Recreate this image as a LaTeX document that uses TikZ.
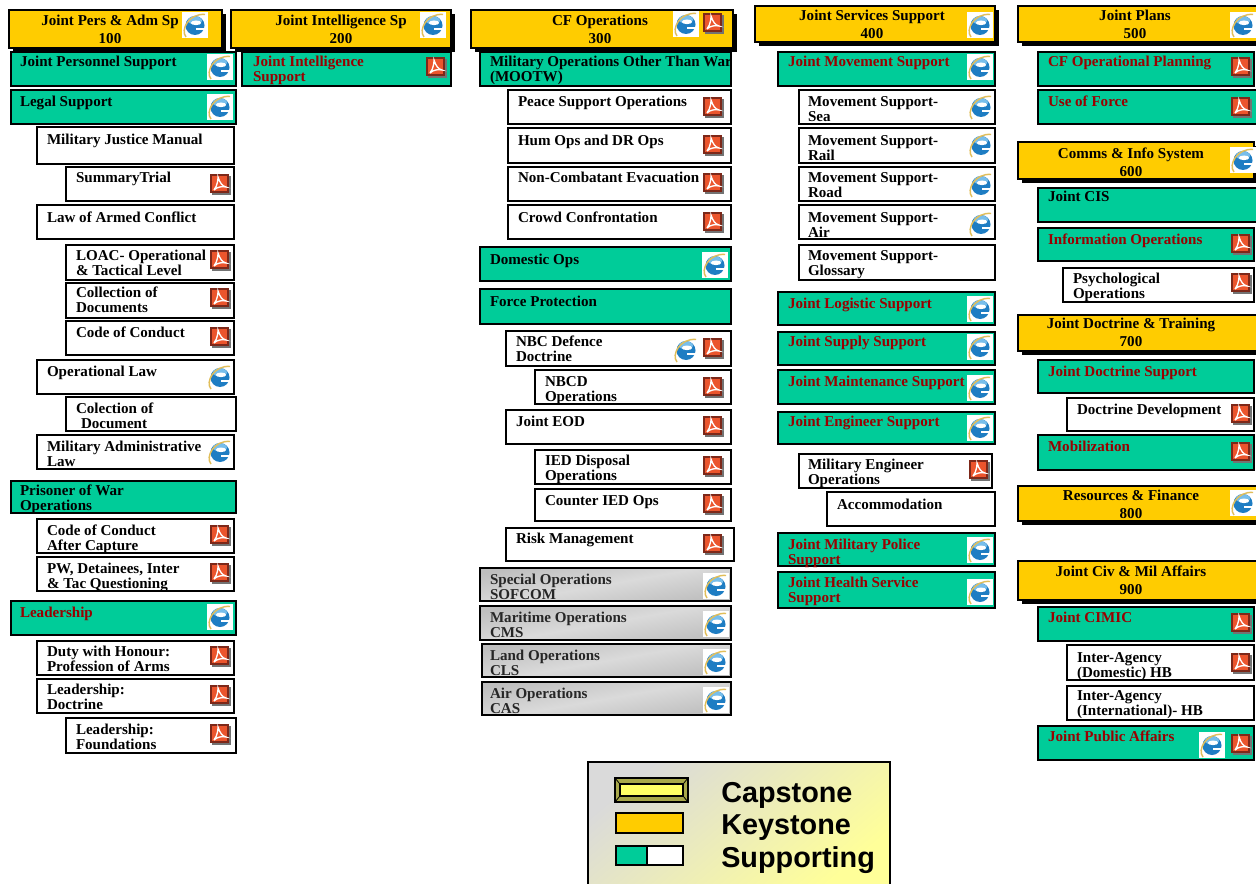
\documentclass[tikz,border=0pt]{standalone}
\usepackage{fontspec}
\setmainfont{Liberation Serif}
\newfontfamily\legfont{Liberation Sans}
\usetikzlibrary{shadows}
\definecolor{keyc}{HTML}{FFCC00}
\definecolor{greenc}{HTML}{00CC99}
\definecolor{redt}{HTML}{990000}
\definecolor{legA}{HTML}{DADADA}
\definecolor{legB}{HTML}{FFFF99}
\definecolor{capY}{HTML}{FFFF66}
\definecolor{capB}{HTML}{A8A84A}
\definecolor{grayE}{HTML}{BEBEBE}
\definecolor{grayM}{HTML}{DADADA}
\newdimen\ux \ux=0.75pt
\newdimen\hx \hx=0.375pt
\tikzset{
 x=0.75pt,y=-0.75pt,
 boxbase/.style={draw=black,line width=1.5pt,inner sep=0pt,outer sep=0pt,anchor=north west,align=left,
   font=\bfseries\fontsize{11.3}{11.9}\selectfont},
 keybox/.style={boxbase,fill=keyc,text=black,drop shadow={shadow xshift=3pt,shadow yshift=-3pt,fill=black,opacity=1}},
 grnbk/.style={boxbase,fill=greenc,text=black},
 grnrd/.style={boxbase,fill=greenc,text=redt},
 whitebox/.style={boxbase,fill=white,text=black},
 graybox/.style={boxbase,left color=grayE,right color=grayE,middle color=grayM,shading angle=10,text=black!85},
 legtext/.style={anchor=west,inner sep=0pt,text=black,font=\legfont\bfseries\fontsize{21.6}{24}\selectfont},
 legswatch/.style={draw=black,line width=1.3pt,inner sep=0pt,outer sep=0pt,anchor=north west},
 ieicon/.pic={
   \fill[white] (-13,-13) rectangle (13,13);
   \fill[color={rgb,255:red,30;green,125;blue,195}] (0,0.5) circle (9.5);
   \fill[color={rgb,255:red,120;green,190;blue,235}] (0,-4.5) ellipse (7 and 4);
   \fill[white] (1,-2.2) ellipse (5.2 and 2.3);
   \fill[white] (0.5,2.6) rectangle (10.5,5);
   \draw[color={rgb,255:red,225;green,190;blue,90},line width=1.1pt]
     (-9,12) .. controls (-15,5) and (-6,-12) .. (10,-10.5);
 },
 pdficon/.pic={
   \fill[black!55] (-8,-8) rectangle (11,11);
   \fill[color={rgb,255:red,125;green,40;blue,25}] (-10,-10) rectangle (9,9);
   \fill[color={rgb,255:red,235;green,85;blue,45}] (-8,-8) rectangle (7,7);
   \draw[white,line width=1pt] (-6,6) .. controls (-2,1) and (-2,-6) .. (-2,-7)
      .. controls (-0,-1) and (2,2) .. (6,3) .. controls (2,2) and (-3,3) .. (-6,6);
 },
}
% box: style, name, x1,y1,x2,y2, text left x, first-line centre y, text
\newcommand\bx[9]{%
 \node[#1,minimum width=\dimexpr\numexpr#5-#3\relax\ux\relax,minimum height=\dimexpr\numexpr#6-#4\relax\ux\relax] (#2) at (#3,#4)
 {\parbox[c][\dimexpr\numexpr#6-#4\relax\ux\relax][t]{\dimexpr\numexpr#5-#3\relax\ux\relax}{%
  \leftskip=\dimexpr\numexpr#7-#3\relax\ux\relax \rightskip=-30pt plus 1fil \parindent=0pt \hbadness=10000 \hfuzz=100pt
  \vspace*{\dimexpr\numexpr2*(#8-#4)-10\relax\hx\relax}\strut #9}};}
% keystone: name, x1,y1,x2,y2, text centre x, first-line centre y, text
\newcommand\kx[8]{%
 \node[keybox,minimum width=\dimexpr\numexpr#4-#2\relax\ux\relax,minimum height=\dimexpr\numexpr#5-#3\relax\ux\relax] (#1) at (#2,#3)
 {\parbox[c][\dimexpr\numexpr#5-#3\relax\ux\relax][t]{\dimexpr\numexpr#4-#2\relax\ux\relax}{%
  \fontsize{11.3}{13.3}\selectfont\centering \rightskip=\dimexpr\numexpr#2+#4-2*#6\relax\ux\relax plus 1fil \hfuzz=100pt
  \vspace*{\dimexpr\numexpr2*(#7-#3)-13\relax\hx\relax}\strut #8}};}
\newcommand\icE[2]{\pic at (#1,#2) {ieicon};}
\newcommand\icP[2]{\pic at (#1,#2) {pdficon};}
\begin{document}
\begin{tikzpicture}
\useasboundingbox (0,0) rectangle (1256,884);
% column 1
\kx{k100}{9}{10}{222}{48}{110}{20}{Joint Pers \& Adm Sp\\100}\icE{195}{25}
\bx{grnbk}{jps}{11}{52}{236}{86}{20}{60}{Joint Personnel Support}\icE{220}{67}
\bx{grnbk}{legal}{11}{90}{236}{124}{20}{100}{Legal Support}\icE{220}{107}
\bx{whitebox}{mjm}{37}{127}{234}{164}{47}{138}{Military Justice Manual}
\bx{whitebox}{st}{66}{167}{234}{201}{76}{176}{SummaryTrial}\icP{220}{184}
\bx{whitebox}{loac}{37}{205}{234}{239}{47}{216}{Law of Armed Conflict}
\bx{whitebox}{loacop}{66}{245}{234}{280}{76}{254}{LOAC- Operational\\\& Tactical  Level}\icP{220}{260}
\bx{whitebox}{coldoc}{66}{283}{234}{318}{76}{291}{Collection of\\Documents}\icP{220}{298}
\bx{whitebox}{coc}{66}{321}{234}{355}{76}{331}{Code of Conduct}\icP{220}{337}
\bx{whitebox}{oplaw}{37}{360}{234}{394}{47}{370}{Operational Law}\icE{220}{377}
\bx{whitebox}{coldoc2}{66}{397}{236}{431}{76}{407}{Colection of\\\hspace*{3.75pt}Document}
\bx{whitebox}{mal}{37}{435}{234}{469}{47}{445}{Military Administrative\\Law}\icE{220}{452}
\bx{grnbk}{pow}{11}{481}{236}{513}{20}{489}{Prisoner of War\\Operations}
\bx{whitebox}{cocac}{37}{519}{234}{553}{47}{529}{Code of Conduct\\After Capture}\icP{220}{535}
\bx{whitebox}{pwdi}{37}{557}{234}{591}{47}{567}{PW, Detainees, Inter\\\& Tac Questioning}\icP{220}{573}
\bx{grnrd}{lead}{11}{601}{236}{635}{20}{611}{Leadership}\icE{220}{617}
\bx{whitebox}{duty}{37}{641}{234}{675}{47}{650}{Duty with Honour:\\Profession of Arms}\icP{220}{656}
\bx{whitebox}{leaddoc}{37}{679}{234}{713}{47}{688}{Leadership:\\Doctrine}\icP{220}{695}
\bx{whitebox}{leadfou}{66}{718}{236}{753}{76}{728}{Leadership:\\Foundations}\icP{220}{734}
% column 2
\kx{k200}{231}{10}{451}{48}{341}{20}{Joint Intelligence Sp\\200}\icE{433}{25}
\bx{grnrd}{jis}{242}{52}{451}{86}{253}{60}{Joint Intelligence\\Support}\icP{436}{67}
% column 3
\kx{k300}{471}{10}{733}{48}{600}{20}{CF Operations\\300}\icE{686}{24}\icP{713}{23}
\bx{grnbk}{mootw}{480}{52}{731}{86}{490}{60}{Military Operations Other Than War\\(MOOTW)}
\bx{whitebox}{pso}{508}{90}{731}{124}{518}{100}{Peace Support Operations}\icP{713}{107}
\bx{whitebox}{hum}{508}{128}{731}{163}{518}{139}{Hum Ops and DR Ops}\icP{713}{145}
\bx{whitebox}{neo}{508}{167}{731}{201}{518}{176}{Non-Combatant Evacuation}\icP{713}{183}
\bx{whitebox}{crowd}{508}{205}{731}{239}{518}{216}{Crowd Confrontation}\icP{713}{222}
\bx{grnbk}{dom}{480}{247}{731}{281}{490}{258}{Domestic Ops}\icE{715}{265}
\bx{grnbk}{fp}{480}{289}{731}{324}{490}{300}{Force Protection}
\bx{whitebox}{nbc}{506}{331}{731}{366}{516}{340}{NBC Defence\\Doctrine}\icE{686}{350}\icP{713}{348}
\bx{whitebox}{nbcd}{535}{370}{731}{404}{545}{380}{NBCD\\Operations}\icP{713}{387}
\bx{whitebox}{eod}{506}{410}{731}{444}{516}{420}{Joint EOD}\icP{713}{426}
\bx{whitebox}{ied}{535}{450}{731}{484}{545}{459}{IED Disposal\\Operations}\icP{713}{466}
\bx{whitebox}{cied}{535}{489}{731}{521}{545}{499}{Counter IED Ops}\icP{713}{504}
\bx{whitebox}{risk}{506}{528}{734}{561}{516}{537}{Risk Management}\icP{713}{544}
\bx{graybox}{sof}{480}{568}{731}{601}{490}{578}{Special Operations\\SOFCOM}\icE{716}{586}
\bx{graybox}{mar}{480}{606}{731}{640}{490}{616}{Maritime Operations\\CMS}\icE{716}{624}
\bx{graybox}{land}{482}{644}{731}{677}{490}{654}{Land Operations\\CLS}\icE{716}{662}
\bx{graybox}{air}{482}{682}{731}{715}{490}{692}{Air Operations\\CAS}\icE{716}{700}
% column 4
\kx{k400}{755}{6}{995}{42}{872}{15}{Joint Services Support\\400}\icE{980}{25}
\bx{grnrd}{jms}{778}{52}{995}{86}{788}{60}{Joint Movement Support}\icE{980}{67}
\bx{whitebox}{msea}{799}{90}{995}{124}{808}{100}{Movement Support-\\Sea}\icE{981}{107}
\bx{whitebox}{mrail}{799}{128}{995}{163}{808}{139}{Movement Support-\\Rail}\icE{981}{145}
\bx{whitebox}{mroad}{799}{167}{995}{201}{808}{176}{Movement Support-\\Road}\icE{981}{185}
\bx{whitebox}{mair}{799}{205}{995}{239}{808}{216}{Movement Support-\\Air}\icE{981}{224}
\bx{whitebox}{mglo}{799}{245}{995}{280}{808}{254}{Movement Support-\\Glossary}
\bx{grnrd}{jlog}{778}{292}{995}{325}{788}{302}{Joint Logistic Support}\icE{980}{309}
\bx{grnrd}{jsup}{778}{332}{995}{365}{788}{340}{Joint Supply Support}\icE{980}{347}
\bx{grnrd}{jmai}{778}{370}{995}{404}{788}{380}{Joint Maintenance Support}\icE{980}{388}
\bx{grnrd}{jeng}{778}{412}{995}{444}{788}{420}{Joint Engineer Support}\icE{980}{428}
\bx{whitebox}{meo}{799}{454}{992}{488}{808}{463}{Military Engineer\\Operations}\icP{979}{470}
\bx{whitebox}{acc}{827}{492}{995}{526}{837}{503}{Accommodation}
\bx{grnrd}{jmp}{778}{533}{995}{566}{788}{543}{Joint Military Police\\Support}\icE{980}{550}
\bx{grnrd}{jhs}{778}{572}{995}{608}{788}{581}{Joint Health Service\\Support}\icE{980}{592}
% column 5
\kx{k500}{1018}{6}{1258}{42}{1135}{15}{Joint Plans\\500}\icE{1243}{25}
\bx{grnrd}{cfop}{1038}{52}{1254}{86}{1048}{60}{CF Operational Planning}\icP{1241}{67}
\bx{grnrd}{uof}{1038}{90}{1258}{124}{1048}{100}{Use of Force}\icP{1241}{107}
\kx{k600}{1018}{142}{1254}{179}{1131}{153}{Comms \& Info System\\600}\icE{1243}{160}
\bx{grnbk}{jcis}{1038}{188}{1258}{222}{1048}{195}{Joint CIS}
\bx{grnrd}{infoop}{1038}{228}{1254}{261}{1048}{238}{Information Operations}\icP{1241}{244}
\bx{whitebox}{psy}{1063}{268}{1254}{302}{1073}{277}{Psychological\\Operations}\icP{1241}{283}
\kx{k700}{1018}{315}{1258}{351}{1131}{323}{Joint Doctrine \& Training\\700}
\bx{grnrd}{jdoc}{1038}{360}{1254}{393}{1048}{370}{Joint Doctrine Support}
\bx{whitebox}{ddev}{1067}{398}{1254}{431}{1077}{408}{Doctrine Development}\icP{1241}{414}
\bx{grnrd}{mob}{1038}{435}{1254}{470}{1048}{445}{Mobilization}\icP{1241}{452}
\kx{k800}{1018}{486}{1258}{521}{1131}{495}{Resources \& Finance\\800}\icE{1243}{503}
\kx{k900}{1018}{561}{1258}{600}{1131}{571}{Joint Civ \& Mil Affairs\\900}
\bx{grnrd}{cimic}{1038}{607}{1254}{641}{1048}{616}{Joint CIMIC}\icP{1241}{623}
\bx{whitebox}{iadom}{1067}{645}{1254}{680}{1077}{656}{Inter-Agency\\(Domestic) HB}\icP{1241}{663}
\bx{whitebox}{iaint}{1067}{686}{1254}{720}{1077}{694}{Inter-Agency\\(International)- HB}
\bx{grnrd}{jpa}{1038}{726}{1254}{760}{1048}{735}{Joint Public Affairs}\icE{1212}{745}\icP{1241}{744}
% legend
\node[draw=black,line width=1.4pt,inner sep=0pt,anchor=north west,minimum width=302*0.75pt,minimum height=125*0.75pt,
  top color=legA,bottom color=legB,shading angle=40] (legend) at (587,761) {};
\node[legswatch,fill=capB,minimum width=73*0.75pt,minimum height=24*0.75pt] (capout) at (615,778) {};
\node[draw=black,line width=0.8pt,fill=capY,inner sep=0pt,anchor=center,minimum width=63*0.75pt,minimum height=12*0.75pt] (capin) at (651.5,790) {};
\draw[line width=0.6pt] (capout.north west) -- (capin.north west) (capout.north east) -- (capin.north east)
  (capout.south west) -- (capin.south west) (capout.south east) -- (capin.south east);
\node[legswatch,fill=keyc,minimum width=67*0.75pt,minimum height=20*0.75pt] (keyswatch) at (616,813) {};
\node[legswatch,fill=greenc,minimum width=31*0.75pt,minimum height=19*0.75pt] (grnswatch) at (616,846) {};
\node[legswatch,fill=white,minimum width=36*0.75pt,minimum height=19*0.75pt] (whtswatch) at (647,846) {};
\node[legtext] (lcap) at (721,795) {Capstone};
\node[legtext] (lkey) at (721,828) {Keystone};
\node[legtext] (lsup) at (721,860) {Supporting};
\end{tikzpicture}
\end{document}
